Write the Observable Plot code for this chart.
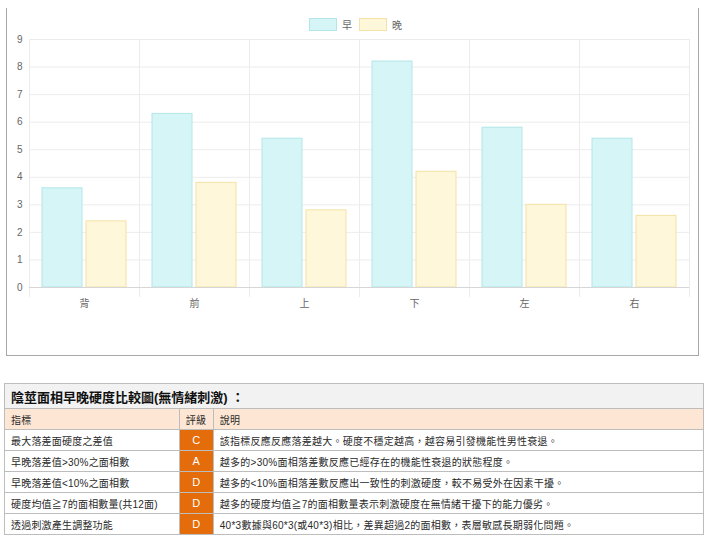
<!DOCTYPE html>
<html>
<head>
<meta charset="utf-8">
<script src="https://cdn.jsdelivr.net/npm/d3@7"></script>
<script src="https://cdn.jsdelivr.net/npm/@observablehq/plot@0.6"></script>
<style>
  body { margin: 0; background: #fff; font-family: "Liberation Sans", "Noto Sans CJK TC", sans-serif; }
  #wrap { position: relative; width: 720px; height: 544px; overflow: hidden; }
  #panel { position: absolute; left: 6px; top: 8px; width: 693px; height: 348px; border: 1.5px solid #a8a8a8; border-top: none; box-sizing: border-box; }
  #legend { position: absolute; top: 17px; left: 309px; display: flex; align-items: center; font-size: 10px; color: #666; }
  #legend .sw { width: 26px; height: 11px; border: 1px solid; margin-right: 5px; }
  #legend .lb { margin-right: 7px; }
  #chart { position: absolute; left: 0; top: 30px; }
  #chart svg { font-family: "Liberation Sans", "Noto Sans CJK TC", sans-serif; }
  table { position: absolute; left: 4px; top: 383px; width: 700px; border-collapse: collapse; font-size: 10px; letter-spacing: 0.2px; color: #2a2a2a; font-family: "Liberation Sans", "Noto Sans CJK TC", sans-serif; }
  td { border: 1px solid #bdbdbd; height: 20px; padding: 0 0 0 6px; white-space: nowrap; }
  td.desc { letter-spacing: 0.25px; text-spacing-trim: space-all; font-feature-settings: normal; }
  tr.title td { height: 24px; background: #f2f2f2; font-weight: bold; font-size: 13px; color: #111; letter-spacing: 0; }
  tr.head td { background: #fde6d3; }
  td.grade { background: #e46c0a; color: #fff; text-align: center; padding: 0; font-size: 11px; }
</style>
</head>
<body>
<div id="wrap">
  <div id="panel"></div>
  <div id="legend"></div>
  <div id="chart"></div>
  <table id="tbl"></table>
</div>
<script>
// ---- data ----
const categories = ["背", "前", "上", "下", "左", "右"];
const seriesNames = ["早", "晚"];
const earlyValues = [3.6, 6.3, 5.4, 8.2, 5.8, 5.4];
const lateValues  = [2.4, 3.8, 2.8, 4.2, 3.0, 2.6];
const yTicks = [0, 1, 2, 3, 4, 5, 6, 7, 8, 9];

const tableTitle = "陰莖面相早晚硬度比較圖(無情緒刺激) ：";
const tableHeaders = ["指標", "評級", "說明"];
const indicators = [
  "最大落差面硬度之差值",
  "早晚落差值>30%之面相數",
  "早晚落差值<10%之面相數",
  "硬度均值≧7的面相數量(共12面)",
  "透過刺激產生調整功能"
];
const grades = ["C", "A", "D", "D", "D"];
const descriptions = [
  "該指標反應反應落差越大。硬度不穩定越高，越容易引發機能性男性衰退。",
  "越多的>30%面相落差數反應已經存在的機能性衰退的狀態程度。",
  "越多的<10%面相落差數反應出一致性的刺激硬度，較不易受外在因素干擾。",
  "越多的硬度均值≧7的面相數量表示刺激硬度在無情緒干擾下的能力優劣。",
  "40*3數據與60*3(或40*3)相比，差異超過2的面相數，表層敏感長期弱化問題。"
];

const fills = ["#d5f5f6", "#fff7da"];
const strokes = ["#b3e6e8", "#f3e1a6"];

// ---- build rows ----
const rows = [];
categories.forEach((c, i) => {
  rows.push({category: c, series: seriesNames[0], value: earlyValues[i]});
  rows.push({category: c, series: seriesNames[1], value: lateValues[i]});
});

// ---- legend ----
const legend = document.getElementById("legend");
seriesNames.forEach((s, i) => {
  const sw = document.createElement("div");
  sw.className = "sw";
  sw.style.background = fills[i];
  sw.style.borderColor = strokes[i];
  const lb = document.createElement("span");
  lb.className = "lb";
  lb.textContent = s;
  legend.append(sw, lb);
});

// ---- chart ----
const gridColor = "#ececec";
const chart = Plot.plot({
  width: 700,
  height: 300,
  marginTop: 9,
  marginBottom: 43,
  marginLeft: 28,
  marginRight: 10,
  style: {fontSize: "10px", color: "#666", background: "transparent"},
  fx: {domain: categories, padding: 0, label: null, axis: null},
  x: {domain: seriesNames, paddingInner: 0.1, paddingOuter: 0.3, axis: null},
  y: {domain: [0, 9], axis: null},
  marks: [
    Plot.gridY(yTicks, {stroke: gridColor, strokeOpacity: 1}),
    Plot.frame({anchor: "left", stroke: gridColor, insetBottom: -9}),
    Plot.frame({anchor: "right", stroke: gridColor, insetBottom: -9}),
    Plot.barY(rows.filter(d => d.series === seriesNames[0]), {fx: "category", x: "series", y: "value", fill: fills[0], stroke: strokes[0], strokeWidth: 1}),
    Plot.barY(rows.filter(d => d.series === seriesNames[1]), {fx: "category", x: "series", y: "value", fill: fills[1], stroke: strokes[1], strokeWidth: 1}),
    Plot.ruleY([0], {stroke: "#d6d6d6"}),
    Plot.axisY(yTicks, {tickSize: 0, tickPadding: 7, fill: "#666", label: null}),
    Plot.axisFx({anchor: "bottom", tickSize: 0, tickPadding: 12, fill: "#666", label: null})
  ]
});
document.getElementById("chart").append(chart);

// ---- table ----
const tbl = document.getElementById("tbl");
const cg = document.createElement("colgroup");
[175, 34, 491].forEach(w => { const c = document.createElement("col"); c.style.width = w + "px"; cg.append(c); });
tbl.append(cg);
const tr0 = document.createElement("tr"); tr0.className = "title";
const td0 = document.createElement("td"); td0.colSpan = 3; td0.textContent = tableTitle; tr0.append(td0); tbl.append(tr0);
const trh = document.createElement("tr"); trh.className = "head";
tableHeaders.forEach(h => { const td = document.createElement("td"); td.textContent = h; trh.append(td); });
tbl.append(trh);
indicators.forEach((ind, i) => {
  const tr = document.createElement("tr");
  const a = document.createElement("td"); a.textContent = ind;
  const b = document.createElement("td"); b.className = "grade"; b.textContent = grades[i];
  const c = document.createElement("td"); c.className = "desc"; c.textContent = descriptions[i];
  tr.append(a, b, c); tbl.append(tr);
});
</script>
</body>
</html>
